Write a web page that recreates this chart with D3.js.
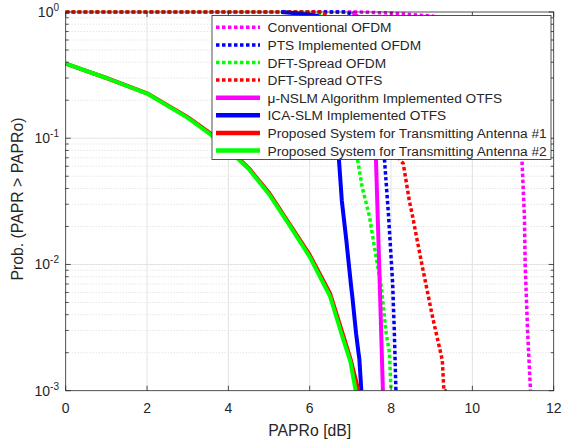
<!DOCTYPE html>
<html>
<head>
<meta charset="utf-8">
<script src="https://cdn.jsdelivr.net/npm/d3@7"></script>
<style>
  body { margin: 0; background: #fff; }
  text { font-family: "Liberation Sans", Arial, sans-serif; fill: #262626; }
</style>
</head>
<body>
<svg width="566" height="441"></svg>
<script>
// Data (PAPRo in dB, CCDF)
const convOfdmX = [0, 7.2, 8, 9, 10, 10.6, 11, 11.22, 11.28, 11.3, 11.36, 11.43];
const convOfdmY = [1, 1, 0.98, 0.93, 0.8, 0.5, 0.2, 0.067, 0.024, 0.0096, 0.00285, 0.001];

const ptsX = [0, 6.9, 7.15, 7.4, 7.6, 7.75, 7.84, 7.94, 8.04, 8.08, 8.12];
const ptsY = [1, 1, 0.93, 0.6, 0.25, 0.12, 0.067, 0.024, 0.0071, 0.003, 0.001];

const dftOfdmX = [0, 6.0, 6.4, 6.7, 6.95, 7.1, 7.18, 7.29, 7.47, 7.59, 7.76, 7.88, 7.96, 8.0];
const dftOfdmY = [1, 1, 0.9, 0.6, 0.3, 0.12, 0.067, 0.041, 0.024, 0.0138, 0.00665, 0.00285, 0.002, 0.001];

const dftOtfsX = [0, 6.3, 6.5, 7.0, 7.5, 7.9, 8.22, 8.3, 8.45, 8.53, 8.77, 9.02, 9.26, 9.3, 9.37];
const dftOtfsY = [1, 1, 0.9, 0.7, 0.4, 0.15, 0.067, 0.063, 0.032, 0.024, 0.0096, 0.00385, 0.00175, 0.001, 0.001];

const nslmX = [7.05, 7.3, 7.45, 7.55, 7.63, 7.71, 7.8];
const nslmY = [1, 0.85, 0.4, 0.15, 0.067, 0.0096, 0.001];

const icaX = [5.3, 5.8, 6.2, 6.45, 6.6, 6.72, 6.79, 6.9, 7.02, 7.05, 7.14, 7.2, 7.22, 7.27];
const icaY = [1, 0.97, 0.93, 0.8, 0.3, 0.067, 0.032, 0.0156, 0.00665, 0.0055, 0.00285, 0.002, 0.0018, 0.001];

const ant1X = [0, 1, 2, 3, 3.5, 4, 4.5, 5, 5.5, 6, 6.5, 6.8, 7.0, 7.2];
const ant1Y = [0.39, 0.30, 0.227, 0.147, 0.113, 0.083, 0.058, 0.037, 0.021, 0.0119, 0.0059, 0.0029, 0.0018, 0.001];

const ant2X = [0, 1, 2, 3, 3.5, 4, 4.5, 5, 5.5, 6, 6.5, 6.8, 7.0, 7.13];
const ant2Y = [0.39, 0.30, 0.226, 0.145, 0.111, 0.081, 0.057, 0.036, 0.0205, 0.0115, 0.0056, 0.0027, 0.0017, 0.001];

const seriesNames = [
  "Conventional OFDM",
  "PTS Implemented OFDM",
  "DFT-Spread OFDM",
  "DFT-Spread OTFS",
  "\u03BC-NSLM Algorithm Implemented OTFS",
  "ICA-SLM Implemented OTFS",
  "Proposed System for Transmitting Antenna #1",
  "Proposed System for Transmitting Antenna #2"
];
const seriesColors = ["#ff00ff", "#0000ff", "#00ff00", "#ff0000", "#ff00ff", "#0000ff", "#ff0000", "#00ff00"];
const seriesDotted = [true, true, true, true, false, false, false, false];

const xTicks = [0, 2, 4, 6, 8, 10, 12];
const yTicks = [1e-3, 1e-2, 1e-1, 1];

const seriesX = [convOfdmX, ptsX, dftOfdmX, dftOtfsX, nslmX, icaX, ant1X, ant2X];
const seriesY = [convOfdmY, ptsY, dftOfdmY, dftOtfsY, nslmY, icaY, ant1Y, ant2Y];

const svg = d3.select("svg");
const pLeft = 65.7, pRight = 553.7, pTop = 12, pBottom = 390.7;

const x = d3.scaleLinear().domain([0, 12]).range([pLeft, pRight]);
const y = d3.scaleLog().domain([1e-3, 1]).range([pBottom, pTop]);

// minor log ticks
const minorTicks = [];
for (let e = -3; e < 0; e++) {
  for (let m = 2; m <= 9; m++) minorTicks.push(m * Math.pow(10, e));
}

// grid
const grid = svg.append("g");
grid.selectAll(".ming")
  .data(minorTicks)
  .join("line")
  .attr("x1", pLeft).attr("x2", pRight)
  .attr("y1", d => y(d)).attr("y2", d => y(d))
  .attr("stroke", "#d9d9d9")
  .attr("stroke-width", 1)
  .attr("stroke-dasharray", "1,2");
grid.selectAll(".gy")
  .data(yTicks.slice(1, 3))
  .join("line")
  .attr("x1", pLeft).attr("x2", pRight)
  .attr("y1", d => y(d)).attr("y2", d => y(d))
  .attr("stroke", "#e3e3e3");
grid.selectAll(".gx")
  .data(xTicks.slice(1, 6))
  .join("line")
  .attr("x1", d => x(d)).attr("x2", d => x(d))
  .attr("y1", pTop).attr("y2", pBottom)
  .attr("stroke", "#e3e3e3");

// curves
svg.append("clipPath").attr("id", "clip")
  .append("rect")
  .attr("x", pLeft - 3).attr("y", pTop - 3)
  .attr("width", pRight - pLeft + 6).attr("height", pBottom - pTop + 3);

const line = d3.line().x(d => x(d[0])).y(d => y(d[1]));
const plot = svg.append("g").attr("clip-path", "url(#clip)");
seriesX.forEach((xs, i) => {
  const pts = xs.map((v, j) => [v, seriesY[i][j]]);
  plot.append("path")
    .datum(pts)
    .attr("d", line)
    .attr("fill", "none")
    .attr("stroke", seriesColors[i])
    .attr("stroke-width", seriesDotted[i] ? 3.5 : 4)
    .attr("stroke-dasharray", seriesDotted[i] ? "3.5,2.5" : null)
    .attr("stroke-linejoin", "round");
});

// axes box
const axisColor = "#262626";
svg.append("rect")
  .attr("x", pLeft).attr("y", pTop)
  .attr("width", pRight - pLeft).attr("height", pBottom - pTop)
  .attr("fill", "none")
  .attr("stroke", axisColor)
  .attr("stroke-width", 0.8);

// ticks (inward, on all four sides)
const ticks = svg.append("g").attr("stroke", axisColor).attr("stroke-width", 0.8);
xTicks.forEach(t => {
  ticks.append("line").attr("x1", x(t)).attr("x2", x(t)).attr("y1", pBottom).attr("y2", pBottom - 5);
  ticks.append("line").attr("x1", x(t)).attr("x2", x(t)).attr("y1", pTop).attr("y2", pTop + 5);
});
yTicks.forEach(t => {
  ticks.append("line").attr("x1", pLeft).attr("x2", pLeft + 5).attr("y1", y(t)).attr("y2", y(t));
  ticks.append("line").attr("x1", pRight).attr("x2", pRight - 5).attr("y1", y(t)).attr("y2", y(t));
});
minorTicks.forEach(t => {
  ticks.append("line").attr("x1", pLeft).attr("x2", pLeft + 3).attr("y1", y(t)).attr("y2", y(t));
  ticks.append("line").attr("x1", pRight).attr("x2", pRight - 3).attr("y1", y(t)).attr("y2", y(t));
});

// tick labels
svg.selectAll(".xl")
  .data(xTicks)
  .join("text")
  .attr("x", d => x(d))
  .attr("y", 412.5)
  .attr("text-anchor", "middle")
  .style("font-size", "14px")
  .text(d => d);

yTicks.forEach(t => {
  const e = Math.round(Math.log10(t));
  const lab = svg.append("text")
    .attr("x", 59)
    .attr("y", y(t) + 5)
    .attr("text-anchor", "end")
    .style("font-size", "14px");
  lab.append("tspan").text("10");
  lab.append("tspan")
    .attr("dy", -6)
    .style("font-size", "10px")
    .text(e);
});

// axis titles
svg.append("text")
  .attr("x", x(6))
  .attr("y", 436)
  .attr("text-anchor", "middle")
  .style("font-size", "15.8px")
  .text("PAPRo [dB]");
svg.append("text")
  .attr("transform", "translate(22.5, 199) rotate(-90)")
  .attr("text-anchor", "middle")
  .style("font-size", "15.8px")
  .text("Prob. (PAPR > PAPRo)");

// legend
const legend = svg.append("g").attr("transform", "translate(212, 15.5)");
legend.append("rect")
  .attr("width", 339).attr("height", 144)
  .attr("fill", "#fff")
  .attr("stroke", axisColor)
  .attr("stroke-width", 0.8);
const items = legend.selectAll(".li")
  .data(seriesNames)
  .join("g")
  .attr("transform", (d, i) => `translate(0, ${11.8 + i * 17.6})`);
items.append("line")
  .attr("x1", 4).attr("x2", 48)
  .attr("stroke", (d, i) => seriesColors[i])
  .attr("stroke-width", (d, i) => seriesDotted[i] ? 3.5 : 4.5)
  .attr("stroke-dasharray", (d, i) => seriesDotted[i] ? "3.5,2.5" : null);
items.append("text")
  .attr("x", 55.5)
  .attr("y", 5)
  .style("font-size", "13.7px")
  .text(d => d);
</script>
</body>
</html>
